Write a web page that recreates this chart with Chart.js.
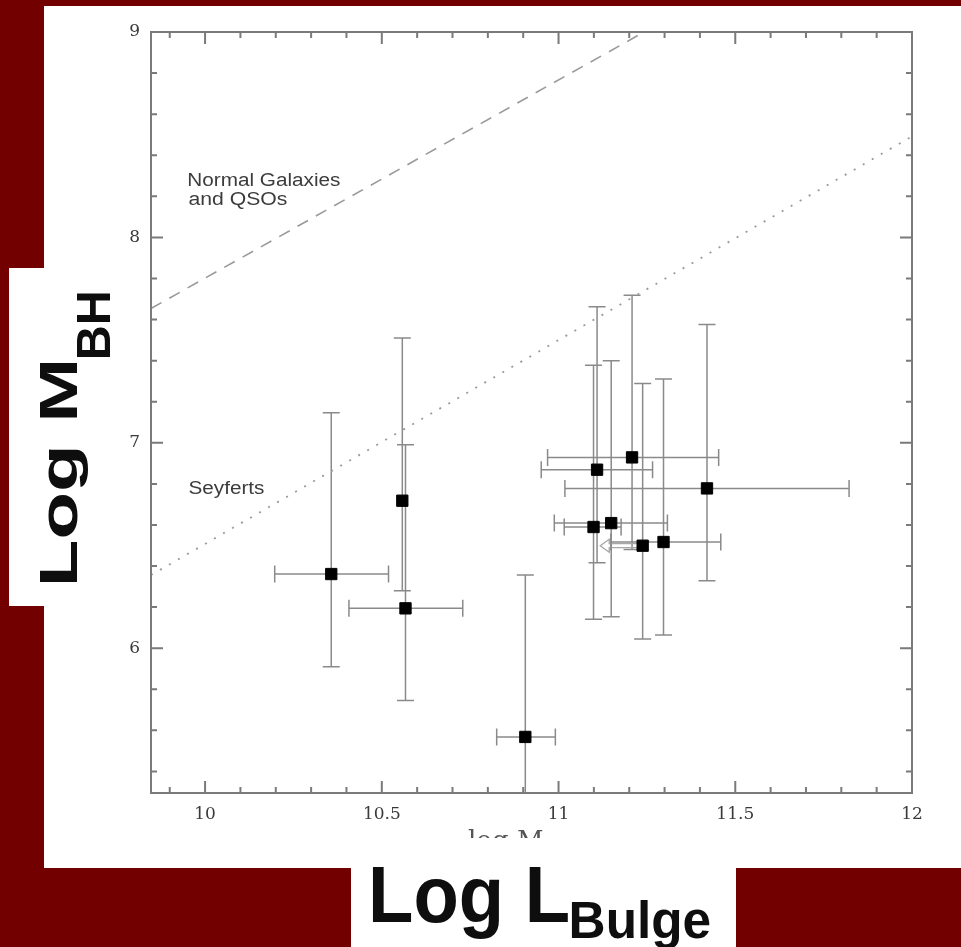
<!DOCTYPE html>
<html>
<head>
<meta charset="utf-8">
<title>Log M_BH vs Log L_Bulge</title>
<script src="https://cdn.jsdelivr.net/npm/chart.js@4.4.1/dist/chart.umd.min.js"></script>
<style>
  html, body { margin: 0; padding: 0; background: #720000; }
  canvas { display: block; }
</style>
</head>
<body>
<canvas id="bhChart" width="961" height="947"></canvas>
<script>
// Seyfert sample: bulge luminosity vs black hole mass (log units)
const logL   = [10.357, 10.558, 10.567, 10.906, 11.109, 11.208, 11.420, 11.099, 11.149, 11.238, 11.297];
const logM   = [6.361, 6.718, 6.194, 5.568, 6.869, 6.929, 6.778, 6.590, 6.609, 6.499, 6.517];
const logLlo = [10.197, null, 10.407, 10.825, 10.951, 10.969, 11.018, 11.016, 10.988, null, 11.148];
const logLhi = [10.519, null, 10.729, 10.991, 11.266, 11.453, 11.822, 11.177, 11.308, null, 11.459];
const logMlo = [5.910, 6.280, 5.745, 4.780, 6.416, 6.480, 6.328, 6.141, 6.153, 6.045, 6.064];
const logMhi = [7.146, 7.510, 6.990, 6.356, 7.662, 7.718, 7.576, 7.378, 7.399, 7.289, 7.310];
// upper limit in luminosity, drawn as a left arrow
const logLlimit = [null, null, null, null, null, null, null, null, null, 11.118, null];

// reference relations
const qsoLineL = [9.847, 11.242];
const qsoLineM = [7.654, 9.0];
const seyLineL = [9.847, 12.0];
const seyLineM = [6.356, 8.492];

// axes
const xMin = 9.847, xMax = 12;
const yMin = 5.295, yMax = 9;
const xTickLabels = [10, 10.5, 11, 11.5, 12];
const yTickLabels = [6, 7, 8, 9];

const tickFont = { family: "'DejaVu Serif', serif", size: 17 };
const barColor = '#8a8a8a';

function toPoints(xs, ys) {
	return xs.map((v, i) => ({ x: v, y: ys[i] }));
}

// Red slide background with white panels
const backdrop = {
	id: 'backdrop',
	beforeDraw(chart) {
		const ctx = chart.ctx;
		ctx.save();
		ctx.fillStyle = '#720000';
		ctx.fillRect(0, 0, chart.width, chart.height);
		ctx.fillStyle = '#ffffff';
		ctx.fillRect(44, 6, 917, 862);
		ctx.fillRect(9, 268, 36, 338);
		ctx.fillRect(351, 868, 385, 79);
		ctx.restore();
	}
};

// Error bars and limit arrow, under the square markers
const errorBars = {
	id: 'errorBars',
	beforeDatasetsDraw(chart) {
		const { ctx, chartArea: a, scales: { x, y } } = chart;
		const cap = 8.5;
		ctx.save();
		ctx.beginPath();
		ctx.rect(a.left, a.top, a.right - a.left, a.bottom - a.top);
		ctx.clip();
		ctx.strokeStyle = barColor;
		ctx.lineWidth = 1.5;
		logL.forEach((lv, i) => {
			const px = x.getPixelForValue(lv);
			const py = y.getPixelForValue(logM[i]);
			const yt = y.getPixelForValue(logMhi[i]);
			const yb = y.getPixelForValue(logMlo[i]);
			ctx.beginPath();
			ctx.moveTo(px, yt); ctx.lineTo(px, yb);
			ctx.moveTo(px - cap, yt); ctx.lineTo(px + cap, yt);
			ctx.moveTo(px - cap, yb); ctx.lineTo(px + cap, yb);
			if (logLlo[i] !== null) {
				const xl = x.getPixelForValue(logLlo[i]);
				const xr = x.getPixelForValue(logLhi[i]);
				ctx.moveTo(xl, py); ctx.lineTo(xr, py);
				ctx.moveTo(xl, py - cap); ctx.lineTo(xl, py + cap);
				ctx.moveTo(xr, py - cap); ctx.lineTo(xr, py + cap);
			}
			ctx.stroke();

			if (logLlimit[i] !== null) {
				const tip = x.getPixelForValue(logLlimit[i]);
				const tail = px - 4;
				ctx.save();
				ctx.strokeStyle = '#a8a8a8';
				ctx.lineWidth = 1.3;
				ctx.beginPath();
				ctx.moveTo(tail, py - 2);
				ctx.lineTo(tip + 9, py - 2);
				ctx.lineTo(tip + 9, py - 6.5);
				ctx.lineTo(tip, py);
				ctx.lineTo(tip + 9, py + 6.5);
				ctx.lineTo(tip + 9, py + 2);
				ctx.lineTo(tail, py + 2);
				ctx.stroke();
				ctx.restore();
			}
		});
		ctx.restore();
	}
};

// Boxed frame with inward ticks on all four sides
const frame = {
	id: 'frame',
	afterDatasetsDraw(chart) {
		const { ctx, chartArea: a, scales: { x, y } } = chart;
		ctx.save();
		ctx.strokeStyle = '#7a7a7a';
		ctx.lineWidth = 2;
		ctx.strokeRect(a.left, a.top, a.right - a.left, a.bottom - a.top);
		ctx.beginPath();
		// x ticks every 0.1, major every 0.5
		for (let k = 99; k <= 120; k++) {
			const px = x.getPixelForValue(k / 10);
			const len = k % 5 === 0 ? 12 : 6;
			ctx.moveTo(px, a.bottom); ctx.lineTo(px, a.bottom - len);
			ctx.moveTo(px, a.top); ctx.lineTo(px, a.top + len);
		}
		// y ticks every 0.2, major every 1
		for (let k = 27; k <= 45; k++) {
			const py = y.getPixelForValue(k / 5);
			const len = k % 5 === 0 ? 12 : 6;
			ctx.moveTo(a.left, py); ctx.lineTo(a.left + len, py);
			ctx.moveTo(a.right, py); ctx.lineTo(a.right - len, py);
		}
		ctx.stroke();
		ctx.restore();
	}
};

// Draw text so that its ink box fits the given width and cap height
function fitText(ctx, text, font, inkWidth, capHeight) {
	ctx.font = font;
	const m = ctx.measureText(text);
	const w = m.actualBoundingBoxLeft + m.actualBoundingBoxRight;
	const capH = ctx.measureText('H').actualBoundingBoxAscent;
	ctx.save();
	ctx.scale(inkWidth / w, capHeight / capH);
	ctx.fillText(text, m.actualBoundingBoxLeft, 0);
	ctx.restore();
}

function fitAt(ctx, text, font, left, baseline, inkWidth, capHeight) {
	ctx.save();
	ctx.translate(left, baseline);
	fitText(ctx, text, font, inkWidth, capHeight);
	ctx.restore();
}

const labels = {
	id: 'labels',
	afterDraw(chart) {
		const { ctx, scales: { x, y } } = chart;
		ctx.save();
		ctx.textAlign = 'left';
		ctx.textBaseline = 'alphabetic';

		// relation labels
		ctx.fillStyle = '#3c3c3c';
		const small = "18px 'Liberation Sans', Arial, sans-serif";
		const lx = x.getPixelForValue(9.953);
		fitAt(ctx, 'Normal Galaxies', small, lx, y.getPixelForValue(8.249), 152, 13);
		fitAt(ctx, 'and QSOs', small, lx, y.getPixelForValue(8.160), 99, 13);
		fitAt(ctx, 'Seyferts', small, lx, y.getPixelForValue(6.750), 76, 13);

		// original axis caption, cut off at the panel edge
		ctx.save();
		ctx.beginPath();
		ctx.rect(400, 800, 250, 38);
		ctx.clip();
		ctx.fillStyle = '#555555';
		ctx.font = "26px 'DejaVu Serif', serif";
		ctx.fillText('log M', 468, 849);
		ctx.restore();

		// large slide labels
		ctx.fillStyle = '#0e0e0e';
		const big = "bold 60px 'Liberation Sans', Arial, sans-serif";
		fitAt(ctx, 'Log L', big, 373, 922, 195, 54);
		fitAt(ctx, 'Bulge', big, 572, 938, 138, 35);

		ctx.save();
		ctx.translate(76.7, 582);
		ctx.rotate(-Math.PI / 2);
		fitText(ctx, 'Log M', big, 219, 36.7);
		ctx.restore();
		ctx.save();
		ctx.translate(110, 357);
		ctx.rotate(-Math.PI / 2);
		fitText(ctx, 'BH', big, 64, 33);
		ctx.restore();

		ctx.restore();
	}
};

const ctx = document.getElementById('bhChart').getContext('2d');

new Chart(ctx, {
	type: 'scatter',
	data: {
		datasets: [{
			type: 'line',
			data: toPoints(qsoLineL, qsoLineM),
			borderColor: '#9a9a9a',
			borderWidth: 1.6,
			borderDash: [12, 9],
			pointRadius: 0,
			fill: false
		}, {
			type: 'line',
			data: toPoints(seyLineL, seyLineM),
			borderColor: '#9a9a9a',
			borderWidth: 1.8,
			borderDash: [2, 8.4],
			pointRadius: 0,
			fill: false
		}, {
			data: toPoints(logL, logM),
			pointStyle: 'rect',
			pointRadius: 8,
			backgroundColor: '#000000',
			borderColor: '#000000',
			borderWidth: 1
		}]
	},
	options: {
		responsive: false,
		animation: false,
		layout: { padding: { top: 32, right: 49, left: 0, bottom: 0 } },
		plugins: {
			legend: { display: false },
			tooltip: { enabled: false }
		},
		scales: {
			x: {
				type: 'linear',
				min: xMin,
				max: xMax,
				afterBuildTicks: s => { s.ticks = xTickLabels.map(v => ({ value: v })); },
				afterFit: s => { s.height = 154; },
				grid: { display: false, drawTicks: false },
				border: { display: false },
				ticks: { font: tickFont, color: '#3a3a3a', padding: 11, maxRotation: 0, callback: v => String(v) }
			},
			y: {
				type: 'linear',
				min: yMin,
				max: yMax,
				afterBuildTicks: s => { s.ticks = yTickLabels.map(v => ({ value: v })); },
				afterFit: s => { s.width = 151; },
				grid: { display: false, drawTicks: false },
				border: { display: false },
				ticks: { font: tickFont, color: '#3a3a3a', padding: 11, callback: v => String(v) }
			}
		}
	},
	plugins: [backdrop, errorBars, frame, labels]
});
</script>
</body>
</html>
